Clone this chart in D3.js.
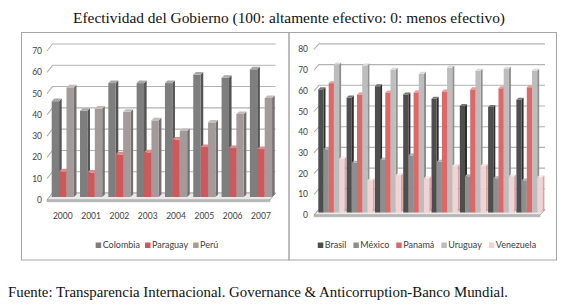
<!DOCTYPE html>
<html><head><meta charset="utf-8">
<script src="https://cdn.jsdelivr.net/npm/d3@7"></script>
<style>
body{margin:0;background:#fff;}
svg{display:block;}
</style></head>
<body>
<svg id="c" width="575" height="304"></svg>
<script>
// ---------- data ----------
const years = ["2000","2001","2002","2003","2004","2005","2006","2007"];
const leftSeries = ["Colombia","Paraguay","Perú"];
const colombia = [45, 40.5, 53.5, 53.5, 53.5, 57.5, 56, 60];
const paraguay = [12, 11.5, 20, 21, 27, 23.5, 23, 22.5];
const peru = [51.5, 41.5, 40, 36, 31, 35, 39, 46.5];
const leftTicks = [0,10,20,30,40,50,60,70];

const rightSeries = ["Brasil","México","Panamá","Uruguay","Venezuela"];
const brasil = [59.5, 55.5, 61, 57, 55, 51.5, 51, 54.5];
const mexico = [30.5, 24, 25.5, 27.5, 24.5, 17.5, 16.5, 15.5];
const panama = [62.5, 57, 58, 58, 58.5, 59.5, 60, 60.5];
const uruguay = [71.5, 71, 69, 67, 70, 68.5, 69.5, 68.5];
const venezuela = [26, 15.5, 18, 16.5, 22.5, 22.5, 17.5, 17];
const rightTicks = [0,10,20,30,40,50,60,70,80];

const titleText = "Efectividad del Gobierno (100: altamente efectivo: 0: menos efectivo)";
const sourceText = "Fuente: Transparencia Internacional. Governance & Anticorruption-Banco Mundial.";

// ---------- styles ----------
const leftColors = {front:["#7e7e7e","#cc5a5c","#a39b9b"], side:["#555555","#9a3c3e","#766f6f"], top:["#a8a8a8","#e08a8a","#c4bcbc"]};
const rightColors = {front:["#4e4e4e","#8e8e8e","#dc6868","#bdbdbd","#f2d2d2"], side:["#2e2e2e","#666","#a84a4a","#8e8e8e","#cfa8a8"], top:["#777","#b0b0b0","#ec9a9a","#dadada","#f8e6e6"]};
const labelFont = "Lato, 'Open Sans', sans-serif";

const svg = d3.select("#c");

// title
svg.append("text").attr("x", 73).attr("y", 23)
  .attr("font-family","'Liberation Serif','Times New Roman',serif").attr("font-size",15)
  .attr("textLength",432).attr("lengthAdjust","spacingAndGlyphs")
  .attr("fill","#111").text(titleText);
// source
svg.append("text").attr("x", 8).attr("y", 297)
  .attr("font-family","'Liberation Serif','Times New Roman',serif").attr("font-size",14.8)
  .attr("textLength",500).attr("lengthAdjust","spacingAndGlyphs")
  .attr("fill","#111").text(sourceText);

// panels
svg.append("rect").attr("x",21.5).attr("y",32.5).attr("width",267.5).attr("height",227.5)
  .attr("fill","none").attr("stroke","#a6a6a6").attr("stroke-width",1);
svg.append("rect").attr("x",289).attr("y",32.5).attr("width",267.5).attr("height",227.5)
  .attr("fill","none").attr("stroke","#a6a6a6").attr("stroke-width",1);

function drawChart(cfg){
  const g = svg.append("g");
  const y = d3.scaleLinear().domain(cfg.domain).range(cfg.yRange);
  const x0 = d3.scaleBand().domain(years).range(cfg.xRange).paddingInner(0).paddingOuter(0);
  const x1 = d3.scaleBand().domain(cfg.series).range(cfg.inner).padding(0);
  const wall = cfg.wall, bo = cfg.barOff, d = cfg.depth;
  const fx0 = cfg.floorX0, fx1 = cfg.floorX1;

  // back wall gridlines with left diagonal
  cfg.ticks.forEach(t=>{
    g.append("path")
      .attr("d", `M${fx0},${y(t)} L${fx0+wall[0]},${y(t)+wall[1]} L${fx1+wall[0]},${y(t)+wall[1]}`)
      .attr("fill","none").attr("stroke","#b3b3b3").attr("stroke-width",1.1);
    g.append("text").attr("x", cfg.labelX).attr("y", y(t)+3)
      .attr("text-anchor","end").attr("font-family",labelFont).attr("font-size",8.5)
      .attr("fill","#404040").text(t);
  });
  // floor slab
  const y0 = y(0);
  g.append("path")
    .attr("d", `M${fx0},${y0} L${fx0+wall[0]},${y0+wall[1]} L${fx1+wall[0]},${y0+wall[1]} L${fx1},${y0} Z`)
    .attr("fill","#e9e9e9").attr("stroke","#9c9c9c").attr("stroke-width",0.8);
  g.append("path")
    .attr("d", `M${fx0},${y0} L${fx1},${y0} L${fx1},${y0+1.8} L${fx0},${y0+1.8} Z`)
    .attr("fill","#bdbdbd").attr("stroke","#9c9c9c").attr("stroke-width",0.5);

  // bars
  years.forEach((yr,i)=>{
    cfg.series.forEach((s,j)=>{
      const v = cfg.values[j][i];
      const xl = x0(yr) + x1(s), w = x1.bandwidth();
      const yt = y(v) + bo, yb = y(0) + bo;
      g.append("path").attr("d", `M${xl+w},${yb} L${xl+w+d},${yb-d} L${xl+w+d},${yt-d} L${xl+w},${yt} Z`)
        .attr("fill", cfg.colors.side[j]);
      g.append("rect").attr("x", xl).attr("y", yt).attr("width", w).attr("height", yb-yt)
        .attr("fill", cfg.colors.front[j]);
      g.append("path").attr("d", `M${xl},${yt} L${xl+d},${yt-d} L${xl+w+d},${yt-d} L${xl+w},${yt} Z`)
        .attr("fill", cfg.colors.top[j]);
    });
    if(cfg.showX){
      g.append("text").attr("x", x0(yr) + (cfg.inner[0]+cfg.inner[1])/2).attr("y", cfg.xLabelY)
        .attr("text-anchor","middle").attr("font-family",labelFont).attr("font-size",8.5)
        .attr("fill","#404040").text(yr);
    }
  });

  // legend
  const lg = g.append("g");
  let cx = 0;
  cfg.series.forEach((s,j)=>{
    const it = lg.append("g").attr("transform",`translate(${cx},0)`);
    it.append("rect").attr("x",0).attr("y",-5.5).attr("width",5.5).attr("height",5.5).attr("fill",cfg.colors.front[j]);
    const t = it.append("text").attr("x",7).attr("y",0).attr("font-family",labelFont).attr("font-size",9)
      .attr("fill","#404040").text(s);
    const tw = t.node().getComputedTextLength();
    cx += 7 + tw + cfg.legendGap;
  });
  const total = cx - cfg.legendGap;
  lg.attr("transform", `translate(${cfg.legendCenter - total/2},${cfg.legendY})`);
}

drawChart({
  domain:[0,70], yRange:[200,51], ticks:leftTicks, labelX:42,
  floorX0:47, floorX1:270, wall:[5.5,-7], barOff:-3, depth:2.6,
  xRange:[48.5,275], inner:[3.2,25.4], series:leftSeries,
  values:[colombia, paraguay, peru], colors:leftColors,
  showX:true, xLabelY:219, legendCenter:157, legendY:248, legendGap:5
});
drawChart({
  domain:[0,80], yRange:[215,49.4], ticks:rightTicks, labelX:308,
  floorX0:314, floorX1:540, wall:[5,-5.5], barOff:-2.5, depth:2,
  xRange:[317,543.4], inner:[1.3,27.3], series:rightSeries,
  values:[brasil, mexico, panama, uruguay, venezuela], colors:rightColors,
  showX:false, legendCenter:427, legendY:248, legendGap:7
});
</script>
</body></html>
